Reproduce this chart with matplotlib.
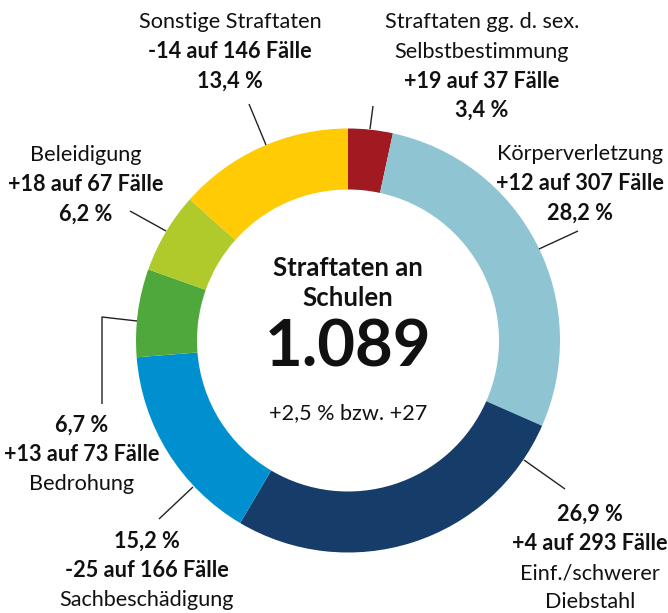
import matplotlib
matplotlib.use("Agg")
import matplotlib.pyplot as plt

# ---- data ----
categories = ["Straftaten gg. d. sex.\nSelbstbestimmung", "Körperverletzung",
              "Einf./schwerer\nDiebstahl", "Sachbeschädigung", "Bedrohung",
              "Beleidigung", "Sonstige Straftaten"]
counts = [37, 307, 293, 166, 73, 67, 146]
changes = ["+19", "+12", "+4", "-25", "+13", "+18", "-14"]
percents = ["3,4 %", "28,2 %", "26,9 %", "15,2 %", "6,7 %", "6,2 %", "13,4 %"]
colors = ["#A11A21", "#8FC5D3", "#163C69", "#0090D0", "#4EA83C", "#AFCA2A", "#FFCB05"]
total_label = "1.089"
total_change = "+2,5 % bzw. +27"
title_center = "Straftaten an\nSchulen"

W, H = 668, 613
fig = plt.figure(figsize=(W / 100, H / 100), dpi=100)
ax = fig.add_axes([0, 0, 1, 1])

def Y(y):
    return H - y

cx, cy, R, ring = 348, 340.5, 212, 61
ax.pie(counts, colors=colors, startangle=90, counterclock=False,
       radius=R, center=(cx, Y(cy)),
       wedgeprops=dict(width=ring, linewidth=0))
ax.set_xlim(0, W)
ax.set_ylim(0, H)
ax.set_aspect("equal")
ax.axis("off")

FONT = "Lato"
fs = 15.6
lh = 29.5

def block(x, y0, lines):
    # lines: list of (text, bold)
    for i, (t, b) in enumerate(lines):
        ax.text(x, Y(y0 + i * lh), t, ha="center", va="center", fontsize=fs,
                fontweight="bold" if b else "normal", family=FONT, color="#111111")

def falle(i):
    return f"{changes[i]} auf {counts[i]} Fälle"

# label blocks
block(482, 22, [("Straftaten gg. d. sex.", False), ("Selbstbestimmung", False),
                (falle(0), True), (percents[0], True)])
block(580, 154, [("Körperverletzung", False), (falle(1), True), (percents[1], True)])
block(590, 514, [(percents[2], True), (falle(2), True), ("Einf./schwerer", False), ("Diebstahl", False)])
block(147, 541, [(percents[3], True), (falle(3), True), ("Sachbeschädigung", False)])
block(82, 425, [(percents[4], True), (falle(4), True), ("Bedrohung", False)])
block(86, 155, [("Beleidigung", False), (falle(5), True), (percents[5], True)])
block(230, 22, [("Sonstige Straftaten", False), (falle(6), True), (percents[6], True)])

# leader lines
leaders = [
    [(373, 106), (370, 129)],
    [(578, 231), (539, 249)],
    [(565, 489), (524, 460)],
    [(159, 519), (193, 487)],
    [(102, 404), (102, 317), (137, 321)],
    [(130, 211), (166, 231)],
    [(249, 104), (266, 145)],
]
for pts in leaders:
    xs = [p[0] for p in pts]
    ys = [Y(p[1]) for p in pts]
    ax.plot(xs, ys, color="#222222", lw=1.0, solid_capstyle="butt")

# center text
ax.text(cx, Y(268), "Straftaten an", ha="center", va="center", fontsize=18.5,
        fontweight="bold", family=FONT, color="#111111")
ax.text(cx, Y(298), "Schulen", ha="center", va="center", fontsize=18.5,
        fontweight="bold", family=FONT, color="#111111")
ax.text(cx, Y(348), total_label, ha="center", va="center", fontsize=47,
        fontweight="bold", family=FONT, color="#111111")
ax.text(cx, Y(413), total_change, ha="center", va="center", fontsize=fs,
        family=FONT, color="#111111")

fig.savefig("out.png", dpi=100)
